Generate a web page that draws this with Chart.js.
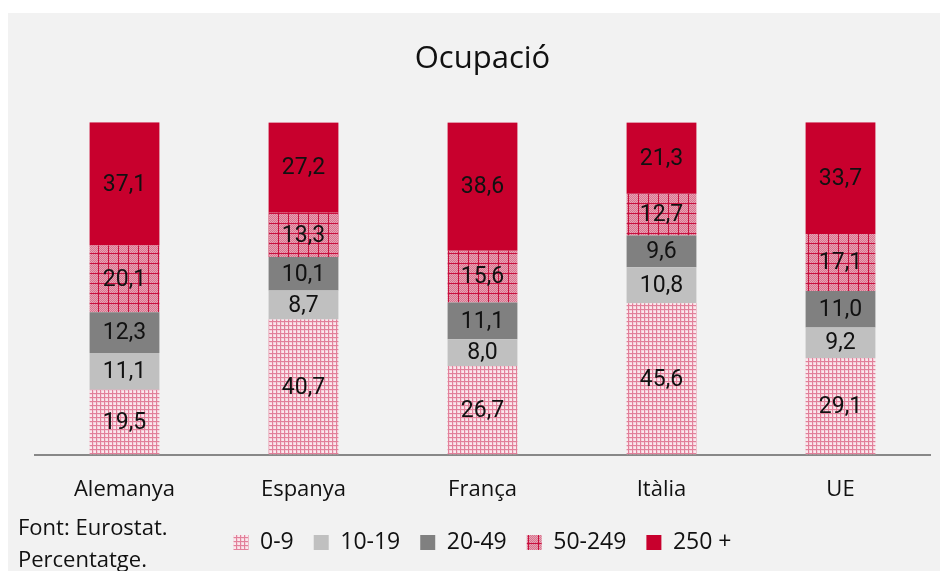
<!DOCTYPE html>
<html>
<head>
<meta charset="utf-8">
<script src="https://cdn.jsdelivr.net/npm/chart.js@4.4.1/dist/chart.umd.min.js"></script>
<style>
  html, body { margin:0; padding:0; background:#ffffff; width:940px; height:571px; overflow:hidden; }
  #panel { position:absolute; left:8px; top:13px; width:932px; height:558px; background:#f2f2f2; }
  #c { position:absolute; left:0; top:0; }
  .note { position:absolute; left:10px; font-family:"Open Sans",sans-serif; font-size:22px; color:#111; line-height:1; }
</style>
</head>
<body>
<div id="panel">
  <canvas id="c" width="932" height="558"></canvas>
  <div class="note" style="top:502px;">Font: Eurostat.</div>
  <div class="note" style="top:534px;">Percentatge.</div>
</div>
<script>
const categories = ["Alemanya", "Espanya", "França", "Itàlia", "UE"];
const seriesNames = ["0-9", "10-19", "20-49", "50-249", "250 +"];
const s0_9    = [19.5, 40.7, 26.7, 45.6, 29.1];
const s10_19  = [11.1, 8.7, 8.0, 10.8, 9.2];
const s20_49  = [12.3, 10.1, 11.1, 9.6, 11.0];
const s50_249 = [20.1, 13.3, 15.6, 12.7, 17.1];
const s250    = [37.1, 27.2, 38.6, 21.3, 33.7];

function makePattern(size, draw) {
  const cv = document.createElement('canvas');
  cv.width = size; cv.height = size;
  const g = cv.getContext('2d');
  draw(g, size);
  return document.getElementById('c').getContext('2d').createPattern(cv, 'repeat');
}
// fine light pink plaid (0-9)
const pat09 = makePattern(4, (g, s) => {
  g.fillStyle = '#f5d0da'; g.fillRect(0,0,s,s);
  g.fillStyle = '#fae8ed'; g.fillRect(2,2,2,2);
  g.fillStyle = '#e2809a'; g.fillRect(0,0,s,1); g.fillRect(0,0,1,s);
});
// dotted pink with red grid (50-249)
const pat50 = makePattern(10, (g, s) => {
  g.fillStyle = '#e7a3b4'; g.fillRect(0,0,s,s);
  g.fillStyle = '#d9728d';
  for (let y=0; y<s; y++) for (let x=0; x<s; x++) if ((x+y)%2===0) g.fillRect(x,y,1,1);
  g.fillStyle = '#c8103e'; g.fillRect(0,0,s,1); g.fillRect(0,0,1,s);
});

const colors = [pat09, '#c0c0c0', '#808080', pat50, '#c8002d'];
const values = [s0_9, s10_19, s20_49, s50_249, s250];

const dataLabels = {
  id: 'dataLabels',
  afterDatasetsDraw(chart) {
    const ctx = chart.ctx;
    ctx.save();
    ctx.font = '23px Roboto, sans-serif';
    ctx.fillStyle = '#111';
    ctx.textAlign = 'center';
    ctx.textBaseline = 'middle';
    chart.data.datasets.forEach((ds, i) => {
      const meta = chart.getDatasetMeta(i);
      meta.data.forEach((bar, j) => {
        const v = ds.data[j];
        const y = (bar.y + bar.base) / 2;
        ctx.fillText(v.toFixed(1).replace('.', ','), bar.x, y + 1);
      });
    });
    ctx.restore();
  }
};

new Chart(document.getElementById('c'), {
  type: 'bar',
  data: {
    labels: categories,
    datasets: seriesNames.map((n, i) => ({
      label: n,
      data: values[i],
      backgroundColor: colors[i],
      borderWidth: 0,
      categoryPercentage: 1,
      barPercentage: 0.39
    }))
  },
  options: {
    responsive: false,
    animation: false,
    layout: { padding: { left: 27, right: 10, top: 0, bottom: 7 } },
    plugins: {
      title: {
        display: true,
        text: 'Ocupació',
        color: '#111',
        font: { family: '"Open Sans", sans-serif', size: 31, weight: 'normal' },
        padding: { top: 28, bottom: 44 }
      },
      legend: {
        position: 'bottom',
        labels: {
          color: '#111',
          boxWidth: 15, boxHeight: 15,
          padding: 20,
          font: { family: '"Open Sans", sans-serif', size: 23 }
        }
      },
      tooltip: { enabled: false }
    },
    scales: {
      x: {
        stacked: true,
        grid: { display: false },
        border: { color: '#888888', width: 2 },
        ticks: { color: '#111', padding: 14, font: { family: '"Open Sans", sans-serif', size: 22 } },
        afterFit(s) { s.height -= 6; }
      },
      y: {
        stacked: true,
        display: false,
        min: 0, max: 100.1
      }
    }
  },
  plugins: [dataLabels]
});
</script>
</body>
</html>
